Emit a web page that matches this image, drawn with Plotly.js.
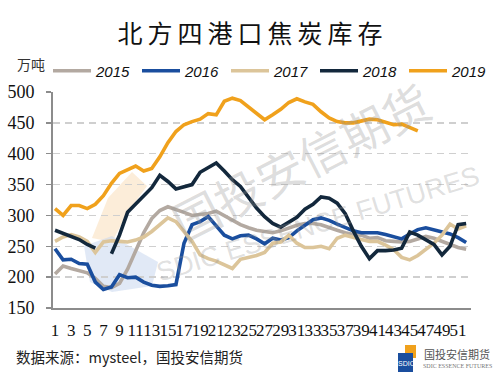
<!DOCTYPE html>
<html>
<head>
<meta charset="utf-8">
<script src="https://cdn.plot.ly/plotly-3.0.1.min.js"></script>
<style>
html,body{margin:0;padding:0;background:#fff;}
#chart{width:500px;height:376px;}
#chart .gtitle{letter-spacing:5px;}
</style>
</head>
<body>
<div id="chart"></div>
<script>
const weeks = Array.from({length: 52}, (_, i) => i + 1);
const tickWeeks = [1,3,5,7,9,11,13,15,17,19,21,23,25,27,29,31,33,35,37,39,41,43,45,47,49,51];
const tickLabels = tickWeeks.map(String);

const s2015 = [205,218,214,211,207,198,185,183,190,213,243,272,295,308,314,310,305,300,302,303,307,300,293,285,280,276,274,272,275,280,284,287,287,285,280,276,272,269,268,263,264,259,258,257,258,262,266,263,258,253,248,245];
const s2016 = [246,228,229,222,221,192,180,184,204,199,200,192,187,185,186,188,255,285,290,298,283,268,262,267,268,262,254,263,260,264,275,284,293,296,292,286,280,275,272,272,272,269,266,262,270,277,280,277,274,270,264,256];
const s2017 = [258,265,269,265,258,240,257,259,258,257,260,265,274,285,296,290,275,258,236,230,226,220,214,229,232,235,240,255,257,268,255,248,248,250,246,263,268,264,261,258,258,252,245,232,228,235,245,255,268,286,278,283];
const s2018 = [276,271,266,261,253,247,null,238,268,305,318,330,345,365,355,343,346,350,370,378,385,372,358,347,330,312,298,287,281,289,297,310,318,330,328,320,303,275,250,230,243,243,244,247,273,268,260,253,236,250,285,287];
const s2019 = [311,300,316,316,311,318,332,352,368,374,380,372,376,395,418,436,447,452,456,465,463,485,490,486,476,466,455,463,472,483,489,484,480,468,458,452,450,450,453,456,455,451,447,448,443,437];

const names = ['2015','2016','2017','2018','2019'];
const colors = ['#b3a9a1','#1a4e9e','#dcc59a','#13283c','#f0a11c'];
const series = [s2015, s2016, s2017, s2018, s2019];

const traces = series.map((s, i) => ({
  x: weeks.slice(0, s.length),
  y: s,
  name: names[i],
  type: 'scatter',
  mode: 'lines',
  connectgaps: false,
  line: {color: colors[i], width: 3.6, shape: 'linear'}
}));

const L = 53, R = 471, T = 92, B = 308;
const px = v => (v - L) / (R - L);
const py = v => (B - v) / (B - T);
function path(pts){ return 'M' + pts.map(p => px(p[0]).toFixed(4) + ',' + py(p[1]).toFixed(4)).join('L') + 'Z'; }

const serif = 'Liberation Serif, Times New Roman, serif';

const layout = {
  width: 500, height: 376,
  font: {family: serif, size: 17, color: '#111111'},
  margin: {l: L, r: 500 - R, t: T, b: 376 - B, pad: 0},
  paper_bgcolor: '#ffffff',
  plot_bgcolor: 'rgba(0,0,0,0)',
  title: {
    text: '北方四港口焦炭库存',
    font: {family: 'Noto Sans CJK SC', size: 25, color: '#111111'},
    xref: 'container', x: 0.505, xanchor: 'center',
    yref: 'container', y: 1 - 34/376, yanchor: 'middle'
  },
  showlegend: true,
  legend: {
    orientation: 'h',
    x: px(48), xanchor: 'left',
    y: py(71), yanchor: 'middle',
    font: {family: 'Liberation Sans', size: 15, style: 'italic', color: '#111111'},
    entrywidth: 36, entrywidthmode: 'pixels',
    itemwidth: 38,
    tracegroupgap: 0,
    bgcolor: 'rgba(0,0,0,0)'
  },
  xaxis: {
    range: [0.75, 52.6],
    tickmode: 'array', tickvals: tickWeeks, ticktext: tickLabels,
    tickangle: 0,
    showgrid: false, zeroline: false,
    showline: true, linecolor: '#8c8c8c', linewidth: 2,
    ticks: '',
    tickfont: {family: serif, size: 17, color: '#111111'},
    ticklabelstandoff: 6
  },
  yaxis: {
    range: [150, 500],
    tickmode: 'array', tickvals: [150,200,250,300,350,400,450,500],
    ticktext: ['150','200','250','300','350','400','450','500'],
    showgrid: true, gridcolor: '#cfcfcf', gridwidth: 1.3, griddash: '7px,5px',
    zeroline: false,
    showline: true, linecolor: '#8c8c8c', linewidth: 2,
    ticks: 'outside', ticklen: 5, tickcolor: '#8c8c8c', tickwidth: 1.5,
    tickfont: {family: serif, size: 18, color: '#111111'},
    ticklabelstandoff: 8
  },
  shapes: [
    {type: 'path', xref: 'paper', yref: 'paper', layer: 'below', line: {width: 0},
     fillcolor: 'rgba(248,215,170,0.45)',
     path: path([[92,238],[108,198],[132,172],[147,186],[128,212],[112,242]])},
    {type: 'path', xref: 'paper', yref: 'paper', layer: 'below', line: {width: 0},
     fillcolor: 'rgba(200,215,238,0.55)',
     path: path([[84,246],[112,236],[158,262],[152,286],[112,292],[90,282]])},
    {type: 'rect', xref: 'paper', yref: 'paper', line: {width: 0}, fillcolor: '#f0a11c',
     x0: px(405), x1: px(416), y0: py(358), y1: py(345)},
    {type: 'rect', xref: 'paper', yref: 'paper', line: {width: 0}, fillcolor: '#1a4e9e',
     x0: px(398), x1: px(413), y0: py(372), y1: py(353)}
  ],
  annotations: [
    {text: '万吨', xref: 'paper', yref: 'paper', x: px(31), y: py(64), xanchor: 'center', yanchor: 'middle',
     showarrow: false, font: {family: 'Noto Sans CJK SC', size: 14, color: '#333333'}},
    {text: '数据来源：mysteel，国投安信期货', xref: 'paper', yref: 'paper', x: px(14), y: py(356), xanchor: 'left', yanchor: 'middle',
     showarrow: false, font: {family: 'Noto Sans CJK SC', size: 14.5, color: '#222222'}},
    {text: '国投安信期货', xref: 'paper', yref: 'paper', x: px(300), y: py(160), xanchor: 'center', yanchor: 'middle',
     textangle: -27, showarrow: false, font: {family: 'Noto Sans CJK SC', size: 47, color: 'rgba(150,150,150,0.33)'}},
    {text: 'SDIC ESSENCE FUTURES', xref: 'paper', yref: 'paper', x: px(318), y: py(224), xanchor: 'center', yanchor: 'middle',
     textangle: -17, showarrow: false, font: {family: 'Liberation Sans', size: 27, color: 'rgba(150,150,150,0.30)'}},
    {text: 'SDIC', xref: 'paper', yref: 'paper', x: px(406), y: py(363), xanchor: 'center', yanchor: 'middle',
     showarrow: false, font: {family: 'Liberation Sans', size: 7, color: '#ffffff'}},
    {text: '国投安信期货', xref: 'paper', yref: 'paper', x: px(457), y: py(354), xanchor: 'center', yanchor: 'middle',
     showarrow: false, font: {family: 'Noto Sans CJK SC', size: 11, color: '#555555'}},
    {text: 'SDIC ESSENCE FUTURES', xref: 'paper', yref: 'paper', x: px(457), y: py(366), xanchor: 'center', yanchor: 'middle',
     showarrow: false, font: {family: serif, size: 6, color: '#777777'}}
  ]
};

Plotly.newPlot('chart', traces, layout, {displayModeBar: false, staticPlot: true});
</script>
</body>
</html>
